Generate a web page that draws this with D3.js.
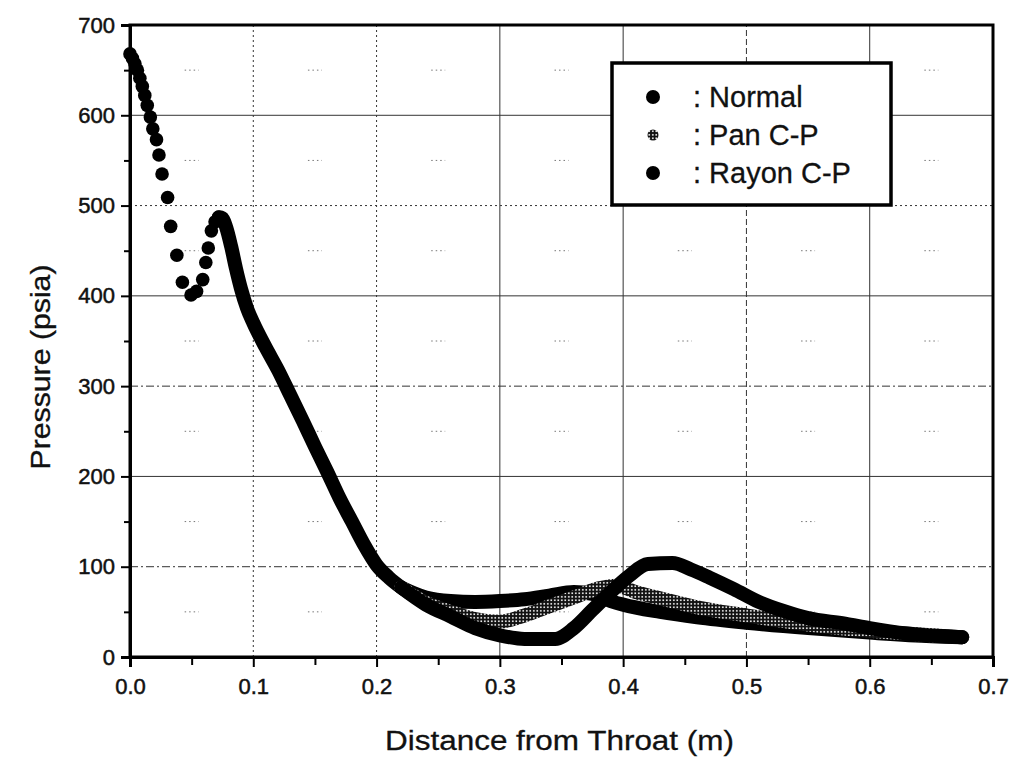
<!DOCTYPE html>
<html>
<head>
<meta charset="utf-8">
<script src="https://cdn.jsdelivr.net/npm/d3@7"></script>
<style>
  body { margin: 0; background: #fff; }
  text { font-family: "Liberation Sans", Arial, sans-serif; fill: #111; }
</style>
</head>
<body>
<svg id="chart" width="1030" height="757"></svg>
<script>
// sparse dots at the start (all three cases coincide here)
const headDist  = [0.000, 0.002, 0.004, 0.006, 0.008, 0.010, 0.012, 0.014, 0.0165, 0.0185, 0.0215, 0.0235, 0.026, 0.0305, 0.033, 0.038, 0.0425, 0.0495, 0.054, 0.059, 0.0615, 0.0635, 0.066, 0.069, 0.072];
const headPress = [668, 663, 657, 650, 641, 632, 622, 611, 598, 585, 573, 556, 535, 509, 477, 445, 415, 401, 405, 418, 437, 453, 472, 482, 487];

// dense common part after the first peak
const sharedDist  = [0.072, 0.075, 0.078, 0.082, 0.086, 0.090, 0.095, 0.100, 0.110, 0.120, 0.130, 0.140, 0.150, 0.160, 0.170, 0.180, 0.190, 0.200, 0.210, 0.220];
const sharedPress = [487, 486, 476, 455, 430, 408, 386, 370, 343, 318, 290, 262, 233, 205, 176, 150, 124, 102, 88, 77];

// each case after the split
const normalDist  = [0.220, 0.240, 0.260, 0.280, 0.300, 0.320, 0.340, 0.360, 0.375, 0.390, 0.400, 0.430, 0.460, 0.500, 0.550, 0.600, 0.650, 0.675];
const normalPress = [77, 66, 62, 61, 62, 64, 68, 72, 70, 62, 58, 50, 44, 38, 32, 27, 23, 22];

const panDist  = [0.220, 0.240, 0.260, 0.280, 0.300, 0.320, 0.340, 0.360, 0.380, 0.395, 0.410, 0.430, 0.460, 0.500, 0.550, 0.600, 0.650, 0.675];
const panPress = [77, 60, 50, 42, 39, 46, 56, 66, 76, 79, 72, 65, 55, 46, 36, 29, 24, 22];

const rayonDist  = [0.220, 0.240, 0.260, 0.280, 0.300, 0.320, 0.345, 0.360, 0.375, 0.390, 0.405, 0.420, 0.440, 0.455, 0.470, 0.490, 0.510, 0.530, 0.550, 0.580, 0.600, 0.630, 0.675];
const rayonPress = [77, 58, 45, 32, 24, 20, 20, 32, 52, 72, 90, 103, 104, 97, 88, 75, 61, 51, 43, 37, 32, 26, 22];

const xTicks = [0, 0.1, 0.2, 0.3, 0.4, 0.5, 0.6, 0.7];
const yTicks = [0, 100, 200, 300, 400, 500, 600, 700];
const xMinor = [0.05, 0.15, 0.25, 0.35, 0.45, 0.55, 0.65];
const yMinor = [50, 150, 250, 350, 450, 550, 650];

const legendNames = [': Normal', ': Pan C-P', ': Rayon C-P'];

const svg = d3.select('#chart');
const plotL = 130, plotR = 993, plotT = 25, plotB = 657;

const x = d3.scaleLinear().domain([0, 0.7]).range([plotL, plotR]);
const y = d3.scaleLinear().domain([0, 700]).range([plotB, plotT]);

// stipple for the Pan C-P band
const defs = svg.append('defs');
const pat = defs.append('pattern')
    .attr('id', 'panDots')
    .attr('width', 3.5).attr('height', 3.5)
    .attr('patternUnits', 'userSpaceOnUse');
pat.append('rect').attr('width', 3.5).attr('height', 3.5).attr('fill', '#111');
pat.append('rect').attr('x', 1).attr('y', 1).attr('width', 1.6).attr('height', 1.6).attr('fill', '#fff');

// grid, scanned look: some lines solid, some broken
const vDash = { 1: '2,3', 2: '2,3', 3: null, 4: null, 5: '6,3', 6: null };
const hDash = { 1: '8,3,2,3', 2: null, 3: '8,3,2,3', 4: null, 5: '2,3', 6: null };
const grid = svg.append('g').attr('stroke', '#333').attr('stroke-width', 1);
xTicks.forEach(function(t, i) {
    if (!(i in vDash)) return;
    grid.append('line')
        .attr('x1', x(t)).attr('x2', x(t))
        .attr('y1', y(0)).attr('y2', y(700))
        .attr('stroke-dasharray', vDash[i]);
});
yTicks.forEach(function(t, i) {
    if (!(i in hDash)) return;
    grid.append('line')
        .attr('x1', x(0)).attr('x2', x(0.7))
        .attr('y1', y(t)).attr('y2', y(t))
        .attr('stroke-dasharray', hDash[i]);
});
// faint leftovers of the minor grid
xMinor.forEach(function(mx) {
    yMinor.forEach(function(my) {
        grid.append('line')
            .attr('x1', x(mx) - 7).attr('x2', x(mx) + 7)
            .attr('y1', y(my)).attr('y2', y(my))
            .attr('stroke', '#777')
            .attr('stroke-dasharray', '1.5,3');
    });
});

// curves
const line = d3.line()
    .x(function(d) { return x(d[0]); })
    .y(function(d) { return y(d[1]); })
    .curve(d3.curveMonotoneX);

function zipPts(xs, ys) {
    return xs.map(function(v, i) { return [v, ys[i]]; });
}

const bandWidth = 14;
function drawBand(pts, paint) {
    svg.append('path')
        .datum(pts)
        .attr('d', line)
        .attr('fill', 'none')
        .attr('stroke', paint)
        .attr('stroke-width', bandWidth)
        .attr('stroke-linecap', 'round')
        .attr('stroke-linejoin', 'round');
}

drawBand(zipPts(sharedDist, sharedPress), '#000');
drawBand(zipPts(normalDist, normalPress), '#000');
drawBand(zipPts(panDist, panPress), 'url(#panDots)');
drawBand(zipPts(rayonDist, rayonPress), '#000');

svg.append('g').selectAll('circle')
    .data(zipPts(headDist, headPress))
    .enter()
    .append('circle')
    .attr('cx', function(d) { return x(d[0]); })
    .attr('cy', function(d) { return y(d[1]); })
    .attr('r', 6.8)
    .attr('fill', '#000');

// frame
svg.append('rect')
    .attr('x', plotL).attr('y', plotT)
    .attr('width', plotR - plotL).attr('height', plotB - plotT)
    .attr('fill', 'none')
    .attr('stroke', '#000')
    .attr('stroke-width', 3);

// axes
const xAxis = svg.append('g')
    .attr('transform', 'translate(0,' + plotB + ')')
    .call(d3.axisBottom(x).tickValues(xTicks).tickSize(10).tickPadding(11).tickFormat(d3.format('.1f')));
svg.append('g')
    .attr('transform', 'translate(0,' + plotB + ')')
    .call(d3.axisBottom(x).tickValues(xMinor).tickSize(8).tickFormat(''));
const yAxis = svg.append('g')
    .attr('transform', 'translate(' + plotL + ',0)')
    .call(d3.axisLeft(y).tickValues(yTicks).tickSize(9).tickPadding(6));
svg.append('g')
    .attr('transform', 'translate(' + plotL + ',0)')
    .call(d3.axisLeft(y).tickValues(yMinor).tickSize(6).tickFormat(''));

svg.selectAll('.domain').attr('stroke', '#000').attr('stroke-width', 3);
svg.selectAll('.tick line').attr('stroke', '#000').attr('stroke-width', 2);
svg.selectAll('.tick text')
    .attr('font-size', 22)
    .attr('fill', '#111')
    .attr('stroke', '#111')
    .attr('stroke-width', 0.5);

// axis titles
svg.append('text')
    .attr('x', (plotL + plotR) / 2 - 2).attr('y', 750)
    .attr('text-anchor', 'middle')
    .attr('font-size', 27)
    .attr('stroke', '#111').attr('stroke-width', 0.3)
    .attr('textLength', 349)
    .attr('lengthAdjust', 'spacingAndGlyphs')
    .text('Distance from Throat (m)');
svg.append('text')
    .attr('transform', 'translate(50,367) rotate(-90)')
    .attr('text-anchor', 'middle')
    .attr('font-size', 27)
    .attr('stroke', '#111').attr('stroke-width', 0.3)
    .attr('textLength', 205)
    .attr('lengthAdjust', 'spacingAndGlyphs')
    .text('Pressure (psia)');

// legend
const legend = svg.append('g');
legend.append('rect')
    .attr('x', 612).attr('y', 63)
    .attr('width', 279).attr('height', 142)
    .attr('fill', '#fff')
    .attr('stroke', '#000')
    .attr('stroke-width', 3.5);
const legendPaint = ['#000', 'url(#panDots)', '#000'];
const legendR = [7, 5.5, 7];
legendNames.forEach(function(name, i) {
    legend.append('circle')
        .attr('cx', 653).attr('cy', 97 + i * 38)
        .attr('r', legendR[i])
        .attr('fill', legendPaint[i]);
    legend.append('text')
        .attr('x', 693).attr('y', 107 + i * 38)
        .attr('font-size', 29)
        .attr('stroke', '#111').attr('stroke-width', 0.3)
        .text(name);
});
</script>
</body>
</html>
